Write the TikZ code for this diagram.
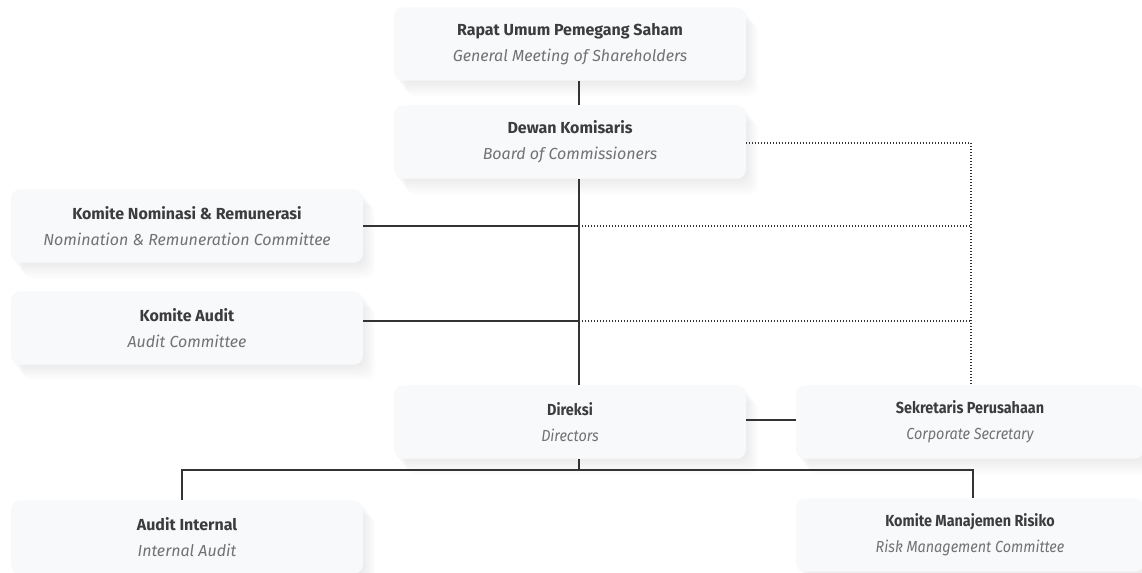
\documentclass[tikz,border=0pt]{standalone}
\usepackage{fontspec}
\setmainfont{Fira Sans}
\newfontfamily\condfont[FakeStretch=0.9]{Fira Sans}
\usepackage{xcolor}
\usetikzlibrary{
    calc
}
\definecolor{boxfill}{HTML}{F8F9FB}
\definecolor{titletext}{HTML}{3C3C3E}
\definecolor{subtext}{HTML}{727274}
\definecolor{linkline}{HTML}{333333}
\newcommand{\orglabel}[2]{{\bfseries\color{titletext}#1}\\[4.5pt]{\itshape\color{subtext}#2}}
\tikzset{
    softshade/.style={preaction={fill=black, opacity=0.011,
        transform canvas={xshift=#1, yshift=-1.3*#1}}},
    orgbox/.style={rectangle, rounded corners=7pt, fill=boxfill,
        minimum width=264pt, minimum height=55pt, align=center,
        font=\fontsize{12}{15}\selectfont,
        softshade=1.5pt, softshade=3pt, softshade=4.5pt, softshade=6pt,
        softshade=7.5pt, softshade=9pt},
    widebox/.style={orgbox, minimum width=261pt},
    condbox/.style={font=\condfont\fontsize{12}{15}\selectfont},
    solidlink/.style={draw=linkline, line width=0.8pt},
    dotlink/.style={draw=linkline, line width=0.9pt, dash pattern=on 0.9pt off 1.35pt}
}

\begin{document}
\begin{tikzpicture}[x=0.75pt,y=-0.75pt]
    \useasboundingbox[fill=white] (0,0) rectangle (1142,573);

    % boxes
    \node[orgbox] (rups)   at (570,44)  {\orglabel{Rapat Umum Pemegang Saham}{General Meeting of Shareholders}};
    \node[orgbox] (dewan)  at (570,142) {\orglabel{Dewan Komisaris}{Board of Commissioners}};
    \node[orgbox] (nomrem) at (187,226) {\orglabel{Komite Nominasi \& Remunerasi}{Nomination \& Remuneration Committee}};
    \node[orgbox] (audit)  at (187,328) {\orglabel{Komite Audit}{Audit Committee}};
    \node[orgbox, condbox] (direksi) at (570,422) {\orglabel{Direksi}{Directors}};
    \node[widebox, condbox] (sekper)  at (970,422) {\orglabel{Sekretaris Perusahaan}{Corporate Secretary}};
    \node[orgbox] (intaudit) at (187,537) {\orglabel{Audit Internal}{Internal Audit}};
    \node[widebox, condbox] (risiko) at (970,535) {\orglabel{Komite Manajemen Risiko}{Risk Management Committee}};

    % guide coordinates
    \coordinate (spine)  at (579,0);
    \coordinate (dotcol) at (971,0);
    \coordinate (busl)   at (182,470);
    \coordinate (busr)   at (973,470);

    % solid links
    \draw[solidlink] (rups.south -| spine) -- (dewan.north -| spine);
    \draw[solidlink] (dewan.south -| spine) -- (direksi.north -| spine);
    \draw[solidlink] (nomrem.east) -- (nomrem.east -| spine);
    \draw[solidlink] ($(audit.east)+(0,-7)$) -- ($(audit.east -| spine)+(0,-7)$);
    \draw[solidlink] ($(direksi.east)+(0,-2)$) -- ($(sekper.west)+(0,-2)$);
    \draw[solidlink] (direksi.south -| spine) -- (busl -| spine);
    \draw[solidlink] (intaudit.north -| busl) -- (busl) -- (busr) -- (risiko.north -| busr);

    % dotted links
    \draw[dotlink] ($(dewan.east)+(0,1)$) -- ($(dewan.east -| dotcol)+(0,1)$) -- (sekper.north -| dotcol);
    \draw[dotlink] (nomrem.east -| spine) -- (nomrem.east -| dotcol);
    \draw[dotlink] ($(audit.east -| spine)+(0,-7)$) -- ($(audit.east -| dotcol)+(0,-7)$);
\end{tikzpicture}
\end{document}
